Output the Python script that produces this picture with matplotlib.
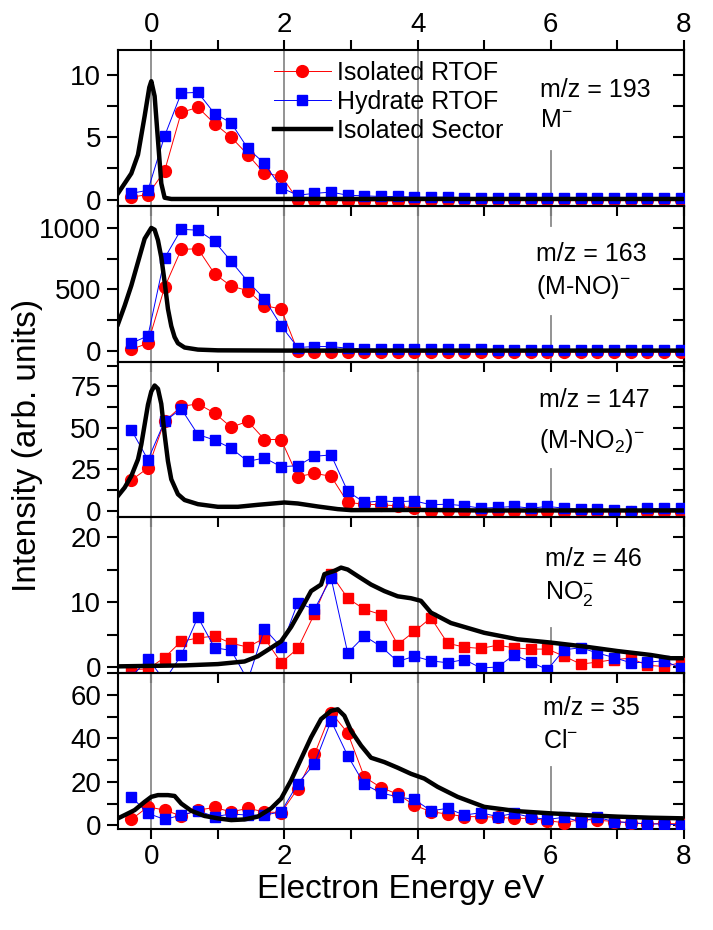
import matplotlib.pyplot as plt
from matplotlib.ticker import MultipleLocator

plt.rcParams['font.family'] = ['Liberation Sans', 'DejaVu Sans']
plt.rcParams['mathtext.fontset'] = 'custom'
plt.rcParams['mathtext.rm'] = 'Liberation Sans'
plt.rcParams['mathtext.it'] = 'Liberation Sans:italic'
plt.rcParams['mathtext.default'] = 'regular'

# RTOF energy grid (eV)
energy = [-0.3, -0.05, 0.2, 0.45, 0.7, 0.95, 1.2, 1.45, 1.7, 1.95, 2.2, 2.45,
          2.7, 2.95, 3.2, 3.45, 3.7, 3.95, 4.2, 4.45, 4.7, 4.95, 5.2, 5.45,
          5.7, 5.95, 6.2, 6.45, 6.7, 6.95, 7.2, 7.45, 7.7, 7.95]

# m/z 193
iso_193 = [0.2, 0.4, 2.3, 7.0, 7.4, 6.1, 5.0, 3.6, 2.1, 1.9, 0.0, -0.05, -0.05, -0.1,
           -0.1, -0.1, -0.1, -0.05, -0.05, -0.05, -0.05, -0.05, -0.05, -0.05, -0.05,
           -0.05, -0.05, -0.05, -0.05, -0.05, -0.05, -0.05, -0.05, -0.05]
hyd_193 = [0.5, 0.75, 5.1, 8.55, 8.6, 6.9, 6.15, 4.1, 2.9, 0.95, 0.35, 0.5, 0.6, 0.35,
           0.3, 0.25, 0.25, 0.2, 0.2, 0.2, 0.15, 0.15, 0.15, 0.15, 0.15, 0.15, 0.1,
           0.1, 0.1, 0.1, 0.1, 0.1, 0.1, 0.1]
sec_x_193 = [-0.5, -0.45, -0.4, -0.3, -0.2, -0.1, -0.03, 0.0, 0.05, 0.1, 0.15, 0.2,
             0.3, 0.5, 1.0, 2.0, 3.0, 4.0, 5.0, 6.0, 7.0, 8.0]
sec_y_193 = [0.5, 0.9, 1.3, 2.1, 3.6, 6.7, 9.0, 9.5, 8.3, 4.8, 1.3, 0.15, 0.05, 0.05,
             0.05, 0.05, 0.05, 0.05, 0.05, 0.05, 0.05, 0.05]

# m/z 163
iso_163 = [10, 60, 516, 825, 830, 626, 525, 489, 366, 339, -5, -10, -10, -10, -10, -10,
           -10, -10, -10, -10, -10, -10, -10, -10, -10, -10, -10, -10, -10, -10, -10,
           -10, -10, -10]
hyd_163 = [60, 120, 754, 989, 981, 890, 727, 563, 421, 202, 25, 33, 33, 19, 15, 12, 12,
           12, 10, 10, 10, 10, 8, 8, 8, 8, 8, 8, 8, 8, 8, 8, 8, 8]
sec_x_163 = [-0.5, -0.4, -0.3, -0.2, -0.1, 0.0, 0.05, 0.1, 0.15, 0.2, 0.25, 0.3, 0.35,
             0.4, 0.5, 0.7, 1.0, 2.0, 3.0, 4.0, 5.0, 6.0, 7.0, 8.0]
sec_y_163 = [216, 366, 530, 721, 912, 1000, 985, 900, 760, 560, 340, 200, 110, 60, 25,
             8, 2, 0, 0, 0, 0, 0, 0, 0]

# m/z 147
iso_147 = [18.5, 25.8, 54, 63, 64.5, 59, 50.4, 54, 43, 43, 20.6, 22.6, 20.8, 5, 4, 3.6,
           3, 1.6, 0, 0.6, 0, -0.4, -0.4, -0.4, -0.5, -0.4, -0.5, -0.4, -0.5, -0.5,
           -0.5, -0.5, -0.5, -0.5]
hyd_147 = [48.8, 30.8, 54, 61.5, 46, 42.7, 37.7, 29.8, 31.9, 26.6, 27.2, 32.9, 33.7,
           11.7, 5, 6, 5.4, 6, 3.6, 4, 3, 1.6, 2, 2.6, 1.6, 2.6, 1.6, 1, 1, 0.6, 0,
           1.4, 1.4, 1.4]
sec_x_147 = [-0.5, -0.4, -0.3, -0.2, -0.15, -0.1, -0.05, 0.0, 0.05, 0.1, 0.15, 0.2,
             0.25, 0.3, 0.4, 0.5, 0.7, 1.0, 1.3, 1.6, 2.0, 2.2, 2.5, 2.8, 3.0, 4.0,
             5.0, 6.0, 7.0, 8.0]
sec_y_147 = [9, 14, 21, 31, 40, 52, 64, 72, 75.6, 73.6, 64.5, 46, 30, 19, 10, 6.5, 4,
             2.4, 2.4, 3.6, 5, 4.4, 2.6, 1, 0.4, 0.5, 0.2, 0.2, 0.2, 0.2]

# m/z 46
iso_46 = [-0.35, -0.25, 1.5, 4.0, 4.5, 4.8, 3.7, 3.1, 4.5, 0.7, 2.9, 8.2, 14.3, 10.6,
          8.9, 8.1, 3.5, 5.5, 7.6, 3.7, 3.1, 2.9, 3.4, 3.0, 2.8, 2.8, 1.7, 0.5, 0.8,
          1.2, 1.4, 0.3, 0.15, 0.7]
hyd_46 = [-1.5, 1.3, -2.0, 1.85, 7.7, 3.0, 2.6, -2.0, 5.9, 3.1, 9.9, 8.9, 13.7, 2.2,
          4.8, 3.2, 0.9, 1.7, 1.0, 0.7, 1.2, -0.1, 0.05, 1.9, 0.8, -0.35, 2.7, 3.0,
          2.2, 1.5, 0.7, 0.8, 1.0, -0.1]
sec_x_46 = [-0.5, 0.5, 1.0, 1.4, 1.6, 1.8, 1.95, 2.1, 2.25, 2.4, 2.55, 2.6, 2.75, 2.85,
            2.95, 3.1, 3.3, 3.5, 3.7, 3.9, 4.05, 4.2, 4.5, 5.0, 5.5, 6.0, 6.5, 7.0,
            7.5, 7.8, 8.0]
sec_y_46 = [0.15, 0.3, 0.5, 0.9, 1.7, 3.0, 4.0, 6.2, 8.9, 11.7, 12.7, 14.3, 14.8, 15.3,
            15.0, 14.0, 12.7, 11.7, 10.9, 10.6, 10.2, 8.4, 6.8, 5.3, 4.3, 3.8, 3.2,
            2.5, 1.9, 1.4, 1.4]

# m/z 35
iso_35 = [2.7, 8.5, 7.0, 4.3, 7.0, 8.2, 6.2, 7.8, 6.2, 5.8, 16.9, 32.6, 51.9, 42.5,
          22.2, 17.4, 14.3, 9.3, 6.2, 5.2, 4.0, 4.0, 3.7, 3.2, 3.2, 2.1, 1.2, 2.7,
          2.4, 1.7, 1.2, 0.6, 0.9, 0.6]
hyd_35 = [13.1, 5.5, 2.7, 4.7, 6.7, 4.0, 5.2, 4.7, 4.7, 6.2, 19.2, 28.3, 48.1, 32.0,
          18.9, 14.9, 13.1, 11.9, 6.7, 7.8, 4.7, 5.8, 4.0, 5.5, 3.7, 2.7, 3.7, 1.7,
          3.7, 1.7, 1.2, 0.6, 0.6, 0.15]
sec_x_35 = [-0.5, -0.4, -0.25, -0.1, 0.0, 0.1, 0.25, 0.35, 0.45, 0.6, 0.8, 1.0, 1.2,
            1.4, 1.6, 1.8, 1.95, 2.1, 2.25, 2.4, 2.55, 2.7, 2.8, 2.9, 3.0, 3.15, 3.3,
            3.5, 3.7, 3.9, 4.1, 4.3, 4.6, 5.0, 5.5, 6.0, 6.5, 7.0, 7.5, 8.0]
sec_y_35 = [3.2, 4.7, 7.0, 10.8, 13.1, 13.9, 13.9, 13.5, 10.0, 6.7, 4.3, 3.2, 2.4, 2.7,
            4.0, 7.8, 12.3, 20.7, 30.6, 40.5, 48.9, 52.7, 53.4, 50.4, 43.5, 36.7, 31.1,
            29.1, 26.5, 23.7, 21.5, 17.7, 13.1, 8.5, 6.5, 5.5, 4.7, 4.0, 3.5, 3.2]

mass_labels = ['m/z = 193', 'm/z = 163', 'm/z = 147', 'm/z = 46', 'm/z = 35']
ion_labels = ['M$^{-}$', '(M-NO)$^{-}$', '(M-NO$_2$)$^{-}$', 'NO$_2^{-}$', 'Cl$^{-}$']

panels = [
    (iso_193, hyd_193, sec_x_193, sec_y_193),
    (iso_163, hyd_163, sec_x_163, sec_y_163),
    (iso_147, hyd_147, sec_x_147, sec_y_147),
    (iso_46, hyd_46, sec_x_46, sec_y_46),
    (iso_35, hyd_35, sec_x_35, sec_y_35),
]

ylims = [(-0.5, 12), (-90, 1180), (-4, 90), (-0.9, 23), (-1.7, 70)]
ymajor = [5, 500, 25, 10, 20]
yminor = [2.5, 250, 12.5, 5, 10]
text_y = [(8.8, 6.4), (789, 519), (67, 42), (16.6, 11.4), (54, 39)]
text_x = [5.84, 5.78, 5.82, 5.92, 5.88]
# visible parts of the x = 6 guide (axes fraction)
six_segments = [[(0, 0.35)], [(0, 0.29), (0.87, 1.0)], [(0, 0.31)], [(0, 0.29)], [(0, 0.395)]]

fig = plt.figure(figsize=(7.13, 9.30), dpi=100)
axes = fig.subplots(5, 1, sharex=True)
fig.subplots_adjust(left=0.1655, right=0.9593, top=0.9462, bottom=0.1086, hspace=0)

grey = '#8a8a8a'
tick_fs = 20
note_fs = 18

for i, ax in enumerate(axes):
    iso, hyd, sx, sy = panels[i]
    ax.patch.set_visible(False)

    for xv in [0, 2, 4]:
        ax.axvline(xv, color=grey, lw=1.3, zorder=1)
    for lo, hi in six_segments[i]:
        ax.axvline(6, ymin=lo, ymax=hi, color=grey, lw=1.3, zorder=1)

    red_marker = 's' if i == 3 else 'o'
    ax.plot(energy, iso, color='red', lw=0.7, marker=red_marker,
            ms=8.5 if red_marker == 'o' else 7.5, mec='red', mfc='red',
            label='Isolated RTOF', zorder=3)
    ax.plot(energy, hyd, color='blue', lw=0.7, marker='s', ms=7.5,
            mec='blue', mfc='blue', label='Hydrate RTOF', zorder=4)
    ax.plot(sx, sy, color='black', lw=3.2, label='Isolated Sector', zorder=5)

    ax.set_xlim(-0.5, 8)
    ax.set_ylim(*ylims[i])
    ax.xaxis.set_major_locator(MultipleLocator(2))
    ax.xaxis.set_minor_locator(MultipleLocator(1))
    ax.yaxis.set_major_locator(MultipleLocator(ymajor[i]))
    ax.yaxis.set_minor_locator(MultipleLocator(yminor[i]))

    ax.tick_params(axis='y', which='both', direction='out', length=8, width=1.5,
                   labelsize=tick_fs, pad=4, right=False)
    ax.tick_params(axis='x', which='both', direction='out', length=7, width=1.5,
                   labelsize=tick_fs, pad=4, labelbottom=(i == 4))
    if i == 0:
        ax.tick_params(axis='x', which='both', top=True, labeltop=True, pad=2)

    right = ax.secondary_yaxis('right')
    right.yaxis.set_major_locator(MultipleLocator(ymajor[i]))
    right.yaxis.set_minor_locator(MultipleLocator(yminor[i]))
    right.tick_params(axis='y', which='both', direction='in', length=8, width=1.5,
                      labelright=False)
    right.spines['right'].set_linewidth(1.5)

    for sp in ax.spines.values():
        sp.set_linewidth(1.5)

    y1, y2 = text_y[i]
    ax.text(text_x[i], y1, mass_labels[i], fontsize=note_fs, va='center', ha='left', zorder=6)
    ax.text(text_x[i], y2, ion_labels[i], fontsize=note_fs, va='center', ha='left', zorder=6)

axes[0].legend(loc='upper left', bbox_to_anchor=(0.275, 0.93), frameon=False,
               fontsize=note_fs, handlelength=2.3, handletextpad=0.25,
               labelspacing=0.2, borderpad=0, borderaxespad=0)

axes[4].set_xlabel('Electron Energy eV', fontsize=24, labelpad=3)
fig.text(28 / 713, 1 - 445 / 930, 'Intensity (arb. units)', rotation=90,
         fontsize=24, ha='center', va='center')

fig.savefig('out.png', dpi=100, facecolor='white')
